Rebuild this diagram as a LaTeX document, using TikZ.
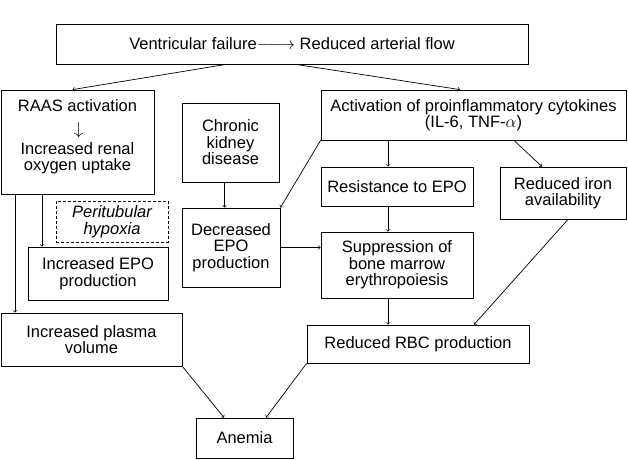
\documentclass[tikz,border=0pt]{standalone}
\usepackage{fontspec}
\setmainfont{Liberation Sans}
\usetikzlibrary{positioning, shapes, arrows}

\tikzset{
  box/.style={draw, line width=0.8pt, align=center, inner sep=0pt},
  link/.style={->, line width=0.7pt, >=to}
}

\begin{document}
\begin{tikzpicture}[x=1pt, y=-1pt, font=\fontsize{16.5}{16.5}\selectfont]
    \useasboundingbox (0,0) rectangle (628,459);
    \node[box, minimum width=153pt, minimum height=104pt] (raas) at (77.5,142) {RAAS activation\\[2pt] \raisebox{9pt}{\rotatebox{-90}{$\rightarrow$}}\\[3pt] Increased renal\\ oxygen uptake\\[-3pt]\mbox{}};
    \node[box, minimum width=472pt, minimum height=40pt] (failure) at (292,44) {Ventricular failure$\relbar\joinrel\longrightarrow$ Reduced arterial flow};
    \node[box, minimum width=97pt, minimum height=79pt] (ckd) at (230.5,142.5) {Chronic\\ kidney\\ disease};
    \node[box, minimum width=305pt, minimum height=50pt] (cyto) at (473.5,115) {Activation of proinflammatory cytokines\\ (IL-6, TNF-$\alpha$)};
    \node[box, minimum width=152pt, minimum height=39pt] (resist) at (397,186.5) {Resistance to EPO};
    \node[box, minimum width=126pt, minimum height=52pt] (iron) at (563,193) {Reduced iron\\ availability};
    \node[box, minimum width=98pt, minimum height=79pt] (decepo) at (231,247.5) {Decreased\\ EPO\\ production};
    \node[box, minimum width=152pt, minimum height=66pt] (marrow) at (397,265) {Suppression of\\ bone marrow\\ erythropoiesis};
    \node[box, minimum width=222pt, minimum height=38pt] (rbc) at (418,344) {Reduced RBC production};
    \node[box, densely dashed, line width=0.6pt, minimum width=112pt, minimum height=41pt, font=\fontsize{16.5}{16.5}\selectfont\itshape] (hypoxia) at (112,221.5) {Peritubular\\ hypoxia};
    \node[box, minimum width=140pt, minimum height=53pt] (incepo) at (98,273.5) {Increased EPO\\ production};
    \node[box, minimum width=181pt, minimum height=53pt] (plasma) at (91.5,339.5) {Increased plasma\\ volume};
    \node[box, minimum width=97pt, minimum height=40pt] (anemia) at (244.5,438) {Anemia};

    \draw[link] ([xshift=-66pt]failure.south) -- ([xshift=-5pt]raas.north);
    \draw[link] ([xshift=4pt]failure.south) -- ([xshift=-13.5pt]cyto.north);
    \draw[link] ([xshift=-35.5pt]raas.south) -- ([xshift=-35.5pt]raas.south |- incepo.north);
    \draw[link] ([xshift=-62.5pt]raas.south) -- ([xshift=-62.5pt]raas.south |- plasma.north);
    \draw[link] ([xshift=-6pt]ckd.south) -- ([xshift=-6pt]ckd.south |- decepo.north);
    \draw[link] (cyto.south west) -- (decepo.north east);
    \draw[link] ([xshift=-85.5pt]cyto.south) -- ([xshift=-85.5pt]cyto.south |- resist.north);
    \draw[link] ([xshift=40.5pt]cyto.south) -- ([xshift=-21pt]iron.north);
    \draw[link] (decepo.east) -- (decepo.east -| marrow.west);
    \draw[link] ([xshift=-9pt]resist.south) -- ([xshift=-9pt]resist.south |- marrow.north);
    \draw[link] ([xshift=-9pt]marrow.south) -- ([xshift=-9pt]marrow.south |- rbc.north);
    \draw[link] ([xshift=5pt]iron.south) -- ([xshift=56pt]rbc.north);
    \draw[link] (plasma.south east) -- ([xshift=-20.5pt]anemia.north);
    \draw[link] (rbc.south west) -- ([xshift=21.5pt]anemia.north);
\end{tikzpicture}
\end{document}
